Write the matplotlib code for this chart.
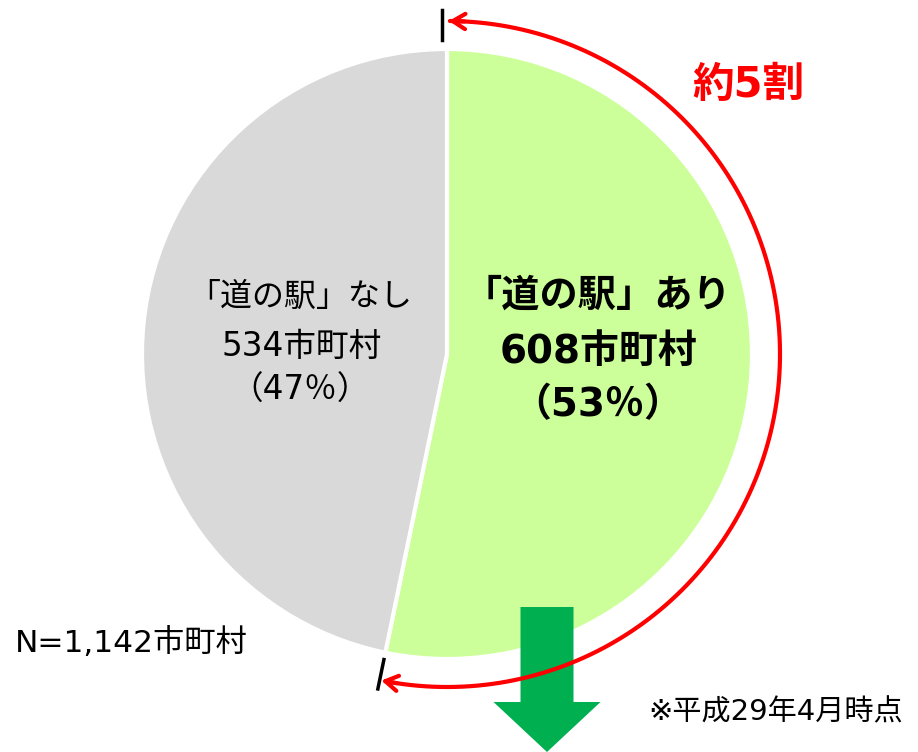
import numpy as np
import matplotlib
matplotlib.use('Agg')
import matplotlib.pyplot as plt

plt.rcParams['font.family'] = ['DejaVu Sans', 'Noto Sans CJK JP']

# data
labels = ['「道の駅」あり', '「道の駅」なし']
counts = [608, 534]
colors = ['#CCFF99', '#D9D9D9']
total_label = 'N=1,142市町村'
note = '※平成29年4月時点'
share_label = '約5割'

W, H = 918, 752
fig = plt.figure(figsize=(W / 100, H / 100), dpi=100)
ax = fig.add_axes([0, 0, 1, 1])


def py(y):
    # pixel row -> data y
    return H - y


cx, cy = 447, py(354)
R = 305

ax.pie(counts, colors=colors, startangle=90, counterclock=False,
       center=(cx, cy), radius=R, frame=True,
       wedgeprops=dict(edgecolor='white', linewidth=3))
ax.set_xlim(0, W)
ax.set_ylim(0, H)
ax.set_aspect('equal')
ax.axis('off')

total = sum(counts)
pcts = [round(c / total * 100) for c in counts]

# green slice label (bold)
ax.text(597, py(297), labels[0], ha='center', va='center', fontsize=27.5, fontweight='bold')
ax.text(598, py(352), f'{counts[0]}市町村', ha='center', va='center', fontsize=28, fontweight='bold')
ax.text(598, py(405), f'（{pcts[0]}％）', ha='center', va='center', fontsize=28, fontweight='bold')

# gray slice label
ax.text(300, py(297), labels[1], ha='center', va='center', fontsize=23)
ax.text(302, py(346), f'{counts[1]}市町村', ha='center', va='center', fontsize=23.5)
ax.text(300, py(390), f'（{pcts[1]}％）', ha='center', va='center', fontsize=23.5)

# green down arrow (behind the red arc)
ax.arrow(547, py(607), 0, py(752) - py(607),
         width=53, head_width=107, head_length=50, length_includes_head=True,
         color='#00B050', linewidth=0, zorder=3)

# red arc with arrowheads
Ra = 333
end_deg = counts[0] / total * 360  # compass angle of boundary
th = np.radians(np.linspace(0.5, end_deg - 1, 300))
ax.plot(cx + Ra * np.sin(th), cy + Ra * np.cos(th), color='red', lw=3,
        solid_capstyle='round', zorder=5)
for a0, a1 in [(3, 0.3), (end_deg - 3, end_deg - 0.3)]:
    t0, t1 = np.radians(a0), np.radians(a1)
    ax.annotate('', xy=(cx + Ra * np.sin(t1), cy + Ra * np.cos(t1)),
                xytext=(cx + Ra * np.sin(t0), cy + Ra * np.cos(t0)),
                arrowprops=dict(arrowstyle='->,head_length=0.9,head_width=0.55',
                                color='red', lw=3, shrinkA=0, shrinkB=0), zorder=5)

# black ticks at both ends
ax.plot([442, 442], [py(10), py(40)], color='black', lw=2.5, zorder=6)
tb = np.radians(end_deg)
ax.plot([cx + 312 * np.sin(tb), cx + 342 * np.sin(tb)],
        [cy + 312 * np.cos(tb), cy + 342 * np.cos(tb)], color='black', lw=2.5, zorder=6)

ax.text(748, py(85), share_label, ha='center', va='center', fontsize=30,
        fontweight='bold', color='red')

ax.text(15, py(643), total_label, ha='left', va='center', fontsize=22.5)
ax.text(648, py(712), note, ha='left', va='center', fontsize=21)

fig.savefig('out.png', dpi=100)
